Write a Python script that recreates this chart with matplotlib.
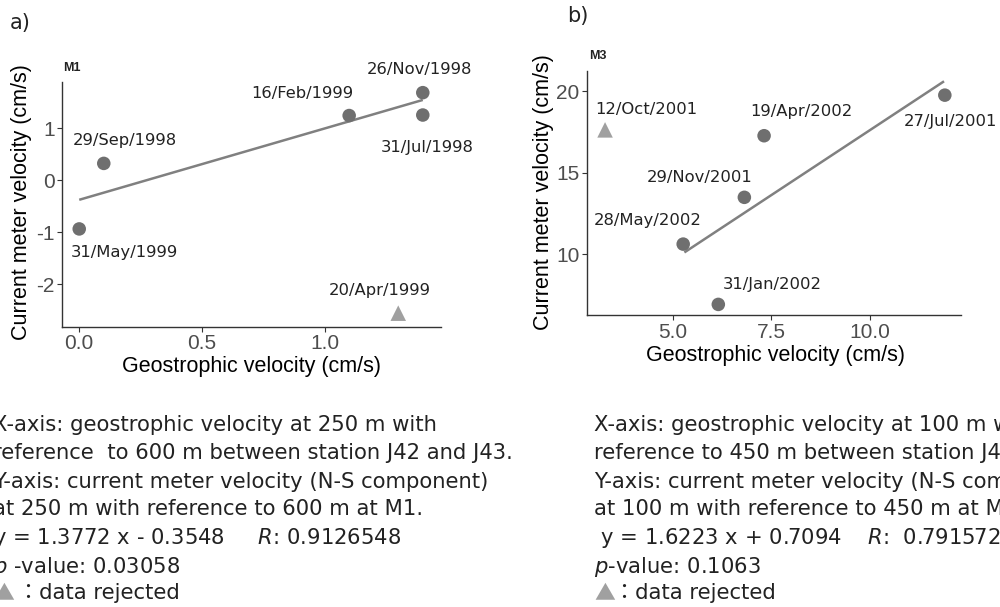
import matplotlib
matplotlib.use("Agg")
import matplotlib.pyplot as plt

plt.rcParams['mathtext.fontset'] = 'dejavusans'

# ---------------- data ----------------
# Panel a (M1)
a_dates = ["31/May/1999", "29/Sep/1998", "16/Feb/1999", "26/Nov/1998", "31/Jul/1998"]
a_geo = [0.0, 0.10, 1.10, 1.40, 1.40]
a_cm = [-0.94, 0.32, 1.24, 1.68, 1.25]
a_rej_dates = ["20/Apr/1999"]
a_rej_geo = [1.30]
a_rej_cm = [-2.56]
a_fit_x = [0.0, 1.40]
a_fit_y = [-0.38, 1.54]
a_xticks = [0.0, 0.5, 1.0]
a_xticklabels = ["0.0", "0.5", "1.0"]
a_yticks = [-2, -1, 0, 1]
a_yticklabels = ["-2", "-1", "0", "1"]

# Panel b (M3)
b_dates = ["19/Apr/2002", "29/Nov/2001", "28/May/2002", "31/Jan/2002", "27/Jul/2001"]
b_geo = [7.32, 6.82, 5.27, 6.16, 11.90]
b_cm = [17.26, 13.48, 10.61, 6.91, 19.75]
b_rej_dates = ["12/Oct/2001"]
b_rej_geo = [3.29]
b_rej_cm = [17.62]
b_fit_x = [5.30, 11.88]
b_fit_y = [10.10, 20.60]
b_xticks = [5.0, 7.5, 10.0]
b_xticklabels = ["5.0", "7.5", "10.0"]
b_yticks = [10, 15, 20]
b_yticklabels = ["10", "15", "20"]

a_notes = [
    "X-axis: geostrophic velocity at 250 m with",
    "reference  to 600 m between station J42 and J43.",
    "Y-axis: current meter velocity (N-S component)",
    "at 250 m with reference to 600 m at M1.",
    "y = 1.3772 x - 0.3548     $R$: 0.9126548",
    "$p$ -value: 0.03058",
]
b_notes = [
    "X-axis: geostrophic velocity at 100 m with",
    "reference to 450 m between station J42 and J43.",
    "Y-axis: current meter velocity (N-S component)",
    "at 100 m with reference to 450 m at M3.",
    " y = 1.6223 x + 0.7094    $R$:  0.7915723",
    "$p$-value: 0.1063",
]

# label offsets in pixels (dx, dy)
a_off = [(45, -24), (21, 23), (-47, 22), (-3, 23), (4, -32)]
a_rej_off = [(-18, 23)]
b_off = [(37, 24), (-45, 20), (-36, 24), (54, 20), (6, -26)]
b_rej_off = [(41, 20)]

# ---------------- style ----------------
W, H = 1000, 607
fig = plt.figure(figsize=(W / 100, H / 100), dpi=100)

PT = '#6f6f6f'
TRI = '#a0a0a0'
LINE = '#808080'
SPINE = '#333333'
TICKC = '#4d4d4d'
TXT = '#222222'
LABFONT = ['DejaVu Sans', 'Noto Sans CJK JP']
AXFONT = 'Liberation Sans'


def make_axes(l, t, r, b):
    return fig.add_axes([l / W, 1 - b / H, (r - l) / W, (b - t) / H])


def style(ax, xlim, ylim, xt, xtl, yt, ytl):
    ax.set_xlim(*xlim)
    ax.set_ylim(*ylim)
    ax.set_xticks(xt)
    ax.set_xticklabels(xtl)
    ax.set_yticks(yt)
    ax.set_yticklabels(ytl)
    for s in ['top', 'right']:
        ax.spines[s].set_visible(False)
    for s in ['left', 'bottom']:
        ax.spines[s].set_color(SPINE)
        ax.spines[s].set_linewidth(1.0)
    ax.tick_params(length=3.5, width=0.8, color=SPINE, labelcolor=TICKC,
                   labelsize=15, pad=2)
    for lab in ax.get_xticklabels() + ax.get_yticklabels():
        lab.set_fontfamily(AXFONT)


def panel(ax, geo, cm, dates, off, rgeo, rcm, rdates, roff, fx, fy):
    ax.plot(fx, fy, color=LINE, lw=1.8, solid_capstyle='butt', zorder=2)
    ax.scatter(geo, cm, s=95, color=PT, edgecolors='none', zorder=3)
    ax.scatter(rgeo, rcm, s=125, marker='^', color=TRI, edgecolors='none', zorder=3)
    for x, y, d, o in zip(geo + rgeo, cm + rcm, dates + rdates, off + roff):
        ax.annotate(d, (x, y), xytext=o, textcoords='offset pixels',
                    ha='center', va='center', fontsize=11.8, color=TXT,
                    family=LABFONT)


# Panel a
axa = make_axes(62.3, 82, 440.7, 326.7)
style(axa, (-0.069, 1.473), (-2.82, 1.885), a_xticks, a_xticklabels,
      a_yticks, a_yticklabels)
panel(axa, a_geo, a_cm, a_dates, a_off, a_rej_geo, a_rej_cm, a_rej_dates,
      a_rej_off, a_fit_x, a_fit_y)

# Panel b
axb = make_axes(587.3, 70.7, 961, 315)
style(axb, (2.84, 12.31), (6.26, 21.25), b_xticks, b_xticklabels,
      b_yticks, b_yticklabels)
panel(axb, b_geo, b_cm, b_dates, b_off, b_rej_geo, b_rej_cm, b_rej_dates,
      b_rej_off, b_fit_x, b_fit_y)


def ftext(x, y, s, **kw):
    fig.text(x / W, 1 - y / H, s, **kw)


# axis titles
ftext(251.7, 366.7, "Geostrophic velocity (cm/s)", ha='center', va='center',
      fontsize=15.5, family=AXFONT, color='black')
ftext(775, 356, "Geostrophic velocity (cm/s)", ha='center', va='center',
      fontsize=15.5, family=AXFONT, color='black')
ftext(21.7, 202, "Current meter velocity (cm/s)", ha='center', va='center',
      rotation=90, fontsize=15.5, family=AXFONT, color='black')
ftext(543.3, 192, "Current meter velocity (cm/s)", ha='center', va='center',
      rotation=90, fontsize=15.5, family=AXFONT, color='black')

# panel tags and station names
ftext(71.7, 67.7, "M1", ha='center', va='center', fontsize=9,
      family=AXFONT, weight='bold', color='#222222')
ftext(597.7, 55.7, "M3", ha='center', va='center', fontsize=9,
      family=AXFONT, weight='bold', color='#222222')
ftext(20, 22.7, "a)", ha='center', va='center', fontsize=15,
      family=LABFONT, color='#222222')
ftext(578.3, 16, "b)", ha='center', va='center', fontsize=15,
      family=LABFONT, color='#222222')

# notes
NOTESIZE = 15.2
line_y = [425, 453.3, 481.7, 509.3, 538.3, 566.7, 593.3]
for i, s in enumerate(a_notes):
    ftext(-7, line_y[i], s, ha='left', va='center', fontsize=NOTESIZE,
          family=LABFONT, color=TXT)
for i, s in enumerate(b_notes):
    ftext(594.3, line_y[i], s, ha='left', va='center', fontsize=NOTESIZE,
          family=LABFONT, color=TXT)

# rejected legend lines
ftext(-7, 593.3, "▲", ha='left', va='center', fontsize=15,
      family=['Noto Sans CJK JP'], color=TRI)
ftext(18, 593.3, "：data rejected", ha='left', va='center', fontsize=NOTESIZE,
      family=LABFONT, color=TXT)
ftext(594.3, 593.3, "▲", ha='left', va='center', fontsize=15,
      family=['Noto Sans CJK JP'], color=TRI)
ftext(614, 593.3, "：data rejected", ha='left', va='center', fontsize=NOTESIZE,
      family=LABFONT, color=TXT)

fig.savefig("out.png", dpi=100)
